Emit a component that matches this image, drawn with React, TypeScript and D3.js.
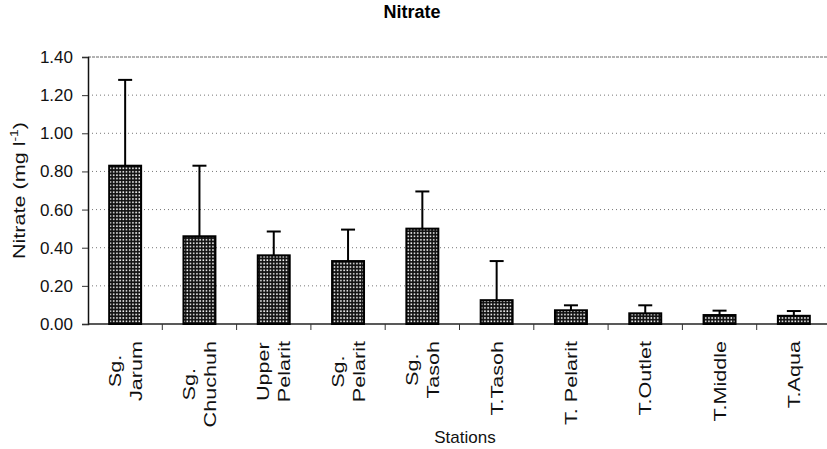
import { useEffect, useRef } from 'react';
import * as d3 from 'd3';

// data
const stations = [
  ['Sg.', 'Jarum'],
  ['Sg.', 'Chuchuh'],
  ['Upper', 'Pelarit'],
  ['Sg.', 'Pelarit'],
  ['Sg.', 'Tasoh'],
  ['T.Tasoh'],
  ['T. Pelarit'],
  ['T.Outlet'],
  ['T.Middle'],
  ['T.Aqua'],
];
const means = [0.83, 0.46, 0.36, 0.33, 0.50, 0.125, 0.072, 0.056, 0.047, 0.043];
const errTops = [1.28, 0.83, 0.485, 0.495, 0.695, 0.33, 0.098, 0.098, 0.07, 0.068];
const yTicks = [0, 0.2, 0.4, 0.6, 0.8, 1.0, 1.2, 1.4];

const W = 827;
const H = 449;
const margin = { top: 57, right: -4, bottom: 125, left: 88 };
const font = 'Arial, "Liberation Sans", sans-serif';
const stretch = 1.27; // the scan stretches the rotated texts along their length

function drawChart(node: SVGSVGElement) {
  const svg = d3.select(node);
  svg.selectAll('*').remove();

  const x = d3.scaleBand<number>()
    .domain(d3.range(stations.length))
    .range([margin.left, W - margin.right])
    .paddingInner(0.57)
    .paddingOuter(0.285);
  const y = d3.scaleLinear().domain([0, 1.4]).range([H - margin.bottom, margin.top]);

  // bar pattern: black with small white holes
  const pat = svg.append('defs').append('pattern')
    .attr('id', 'dots')
    .attr('width', 3.2)
    .attr('height', 3.4)
    .attr('patternUnits', 'userSpaceOnUse');
  pat.append('rect').attr('width', 3.2).attr('height', 3.4).attr('fill', '#111');
  pat.append('rect').attr('x', 1).attr('y', 1).attr('width', 1.5).attr('height', 1.6).attr('fill', '#fff');

  // title
  svg.append('text')
    .attr('x', 412).attr('y', 18)
    .attr('text-anchor', 'middle')
    .attr('font-family', font).attr('font-weight', 'bold').attr('font-size', 18)
    .text('Nitrate');

  // gridlines
  svg.append('g')
    .selectAll('line')
    .data(yTicks.filter(d => d > 0 && d < 1.4))
    .join('line')
    .attr('x1', margin.left).attr('x2', W)
    .attr('y1', d => y(d)).attr('y2', d => y(d))
    .attr('stroke', '#777').attr('stroke-width', 1)
    .attr('stroke-dasharray', '1,3');

  svg.append('line')
    .attr('x1', margin.left).attr('x2', W)
    .attr('y1', y(1.4)).attr('y2', y(1.4))
    .attr('stroke', '#666').attr('stroke-width', 1)
    .attr('stroke-dasharray', '3,1');

  // y axis
  const yAxis = svg.append('g')
    .attr('transform', `translate(${margin.left},0)`)
    .call(d3.axisLeft(y).tickValues(yTicks).tickFormat(d3.format('.2f')).tickSize(6).tickPadding(9));
  yAxis.select('.domain').attr('stroke', '#111').attr('stroke-width', 1.5);
  yAxis.selectAll('.tick line').attr('stroke', '#333');
  yAxis.selectAll('text').attr('font-family', font).attr('font-size', 17).attr('fill', '#111');

  // x axis baseline and ticks between categories
  svg.append('line')
    .attr('x1', margin.left).attr('x2', W)
    .attr('y1', y(0)).attr('y2', y(0))
    .attr('stroke', '#222').attr('stroke-width', 1.5);
  const step = x.step();
  svg.append('g')
    .selectAll('line')
    .data(d3.range(1, stations.length))
    .join('line')
    .attr('x1', i => margin.left + i * step).attr('x2', i => margin.left + i * step)
    .attr('y1', y(0)).attr('y2', y(0) + 6)
    .attr('stroke', '#333');

  // bars
  svg.append('g')
    .selectAll('rect')
    .data(means)
    .join('rect')
    .attr('x', (d, i) => x(i)!)
    .attr('y', d => y(d))
    .attr('width', x.bandwidth())
    .attr('height', d => y(0) - y(d))
    .attr('fill', 'url(#dots)')
    .attr('stroke', '#000')
    .attr('stroke-width', 2);

  // error bars (upper only)
  const eb = svg.append('g').attr('stroke', '#000').attr('stroke-width', 2);
  eb.selectAll('line.v')
    .data(errTops)
    .join('line')
    .attr('class', 'v')
    .attr('x1', (d, i) => x(i)! + x.bandwidth() / 2)
    .attr('x2', (d, i) => x(i)! + x.bandwidth() / 2)
    .attr('y1', (d, i) => y(means[i]))
    .attr('y2', d => y(d));
  eb.selectAll('line.c')
    .data(errTops)
    .join('line')
    .attr('class', 'c')
    .attr('x1', (d, i) => x(i)! + x.bandwidth() / 2 - 7)
    .attr('x2', (d, i) => x(i)! + x.bandwidth() / 2 + 7)
    .attr('y1', d => y(d))
    .attr('y2', d => y(d));

  // category labels, rotated; lines centred within a block that starts below the axis
  const top = y(0) + 17;
  const labels = svg.append('g')
    .selectAll('g')
    .data(stations)
    .join('g');
  labels.each(function (d, i) {
    const g = d3.select(this);
    const cx = x(i)! + x.bandwidth() / 2;
    const texts = g.selectAll('text')
      .data(d)
      .join('text')
      .attr('text-anchor', 'middle')
      .attr('font-family', font).attr('font-size', 17).attr('fill', '#111')
      .text(t => t);
    const lens = texts.nodes().map(n => (n as SVGTextElement).getComputedTextLength());
    const blockLen = d3.max(lens)! * stretch;
    texts.attr('transform', (t, k) => {
      const lx = cx + (k - (d.length - 1) / 2) * 21 + 6;
      return `translate(${lx},${top + blockLen / 2}) rotate(-90) scale(${stretch},1)`;
    });
  });

  // axis titles
  svg.append('text')
    .attr('x', 465).attr('y', 443)
    .attr('text-anchor', 'middle')
    .attr('font-family', font).attr('font-size', 17).attr('fill', '#111')
    .text('Stations');

  const yl = svg.append('text')
    .attr('transform', `translate(25,${(y(0) + y(1.4)) / 2}) rotate(-90) scale(${stretch},1)`)
    .attr('text-anchor', 'middle')
    .attr('font-family', font).attr('font-size', 17).attr('fill', '#111');
  yl.append('tspan').text('Nitrate (mg l');
  yl.append('tspan').attr('dy', -7).attr('font-size', 11).text('-1');
  yl.append('tspan').attr('dy', 7).text(')');
}

export default function App() {
  const ref = useRef<SVGSVGElement>(null);

  useEffect(() => {
    document.body.style.margin = '0';
    if (ref.current) drawChart(ref.current);
  }, []);

  return (
    <svg ref={ref} width={W} height={H} style={{ display: 'block', background: '#fff' }} />
  );
}
